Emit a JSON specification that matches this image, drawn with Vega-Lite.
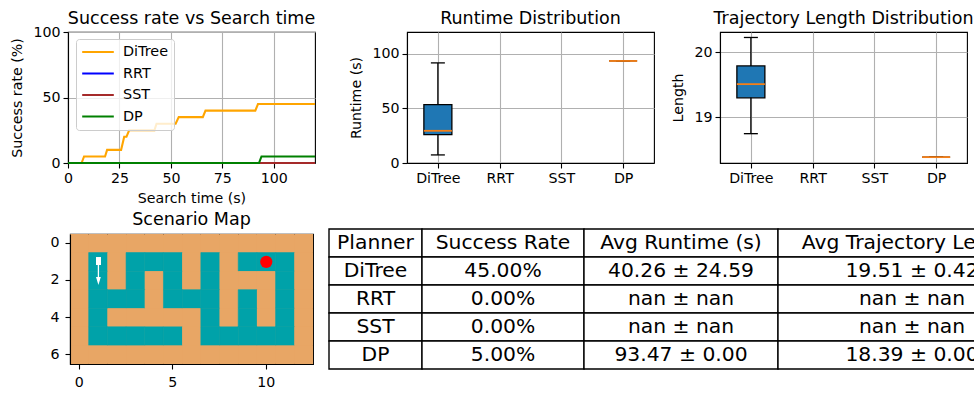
{
"$schema":"https://vega.github.io/schema/vega-lite/v6.json",
"padding":{"left":10,"top":8,"right":0,"bottom":0},
"background":"white",
"config":{
 "font":"DejaVu Sans",
 "view":{"stroke":"black","strokeWidth":1.1},
 "axis":{"labelFont":"DejaVu Sans","titleFont":"DejaVu Sans","labelFontSize":14.2,"titleFontSize":14.2,"titleFontWeight":"normal","labelColor":"black","titleColor":"black","domainColor":"black","tickColor":"black","domainWidth":1.1,"tickWidth":1.1,"tickSize":5,"gridColor":"#b0b0b0","gridWidth":1.1,"labelPadding":3,"titlePadding":8,"labelAngle":0,"labelFlush":false},
 "title":{"font":"DejaVu Sans","fontSize":17.5,"fontWeight":"normal","color":"black","offset":5,"anchor":"middle"}
},
"datasets":{
 "runtime":[{"planner":"DiTree","min":7.4,"q1":26,"med":29.5,"q3":53.4,"max":91.7},{"planner":"DP","min":93.47,"q1":93.47,"med":93.47,"q3":93.47,"max":93.47}],
 "length":[{"planner":"DiTree","min":18.75,"q1":19.3,"med":19.51,"q3":19.79,"max":20.226},{"planner":"DP","min":18.39,"q1":18.39,"med":18.39,"q3":18.39,"max":18.39}]
},
"vconcat":[
 {"hconcat":[
  {"title":{"text":"Success rate vs Search time","dy":7},"width":247,"height":131,
   "data":{"values":[
    {"p":"DiTree","t":0,"s":0},{"p":"DiTree","t":6.6,"s":0},{"p":"DiTree","t":7.8,"s":5},{"p":"DiTree","t":18,"s":5},{"p":"DiTree","t":19,"s":10},{"p":"DiTree","t":25.8,"s":10},{"p":"DiTree","t":27.3,"s":20},{"p":"DiTree","t":28.4,"s":20},{"p":"DiTree","t":29.7,"s":25},{"p":"DiTree","t":42,"s":25},{"p":"DiTree","t":43,"s":30},{"p":"DiTree","t":52.3,"s":30},{"p":"DiTree","t":53.8,"s":35},{"p":"DiTree","t":65.5,"s":35},{"p":"DiTree","t":66.8,"s":40},{"p":"DiTree","t":91,"s":40},{"p":"DiTree","t":92.3,"s":45},{"p":"DiTree","t":120,"s":45},
    {"p":"RRT","t":0,"s":0},{"p":"RRT","t":120,"s":0},
    {"p":"SST","t":0,"s":0},{"p":"SST","t":120,"s":0},
    {"p":"DP","t":0,"s":0},{"p":"DP","t":92.8,"s":0},{"p":"DP","t":94,"s":5},{"p":"DP","t":120,"s":5}
   ]},
   "mark":{"type":"line","clip":false,"strokeWidth":2.1},
   "encoding":{
    "x":{"field":"t","type":"quantitative","title":"Search time (s)","scale":{"domain":[0,120],"nice":false},"axis":{"values":[0,25,50,75,100],"grid":true,"titlePadding":6,"labelPadding":3}},
    "y":{"field":"s","type":"quantitative","title":"Success rate (%)","scale":{"domain":[0,100],"nice":false},"axis":{"values":[0,50,100],"grid":true}},
    "color":{"field":"p","type":"nominal","sort":null,"scale":{"domain":["DiTree","RRT","SST","DP"],"range":["orange","blue","brown","green"]},
      "legend":{"title":null,"orient":"none","legendX":8,"legendY":7,"symbolType":"stroke","symbolSize":1000,"symbolStrokeWidth":2,"clipHeight":16,"rowPadding":5.5,"labelFontSize":14.4,"labelColor":"black","labelFont":"DejaVu Sans","labelOffset":8,"fillColor":"rgba(255,255,255,0.8)","strokeColor":"#cccccc","cornerRadius":3,"padding":5}}
   }},
  {"hconcat":[
   {"title":"Runtime Distribution","width":247,"height":131,"data":{"name":"runtime"},
    "encoding":{"x":{"field":"planner","type":"nominal","title":null,"scale":{"type":"point","domain":["DiTree","RRT","SST","DP"],"padding":0.5},"axis":{"grid":true,"labelPadding":3}}},
    "layer":[
     {"mark":{"type":"rule","color":"black","strokeWidth":1.3},"encoding":{"y":{"field":"min","type":"quantitative","title":"Runtime (s)","scale":{"domain":[0,120],"nice":false},"axis":{"values":[0,50,100],"grid":true}},"y2":{"field":"max"}}},
     {"mark":{"type":"bar","size":28,"fill":"#1f77b4","stroke":"black","strokeWidth":1.3},"encoding":{"y":{"field":"q1","type":"quantitative"},"y2":{"field":"q3"}}},
     {"mark":{"type":"tick","orient":"horizontal","size":14,"thickness":1.3,"color":"black","opacity":1},"encoding":{"y":{"field":"min","type":"quantitative"}}},
     {"mark":{"type":"tick","orient":"horizontal","size":14,"thickness":1.3,"color":"black","opacity":1},"encoding":{"y":{"field":"max","type":"quantitative"}}},
     {"mark":{"type":"tick","orient":"horizontal","size":28,"thickness":1.8,"color":"#f57f17","opacity":1},"encoding":{"y":{"field":"med","type":"quantitative"}}}
    ]},
   {"title":"Trajectory Length Distribution","width":247,"height":131,"data":{"name":"length"},
    "encoding":{"x":{"field":"planner","type":"nominal","title":null,"scale":{"type":"point","domain":["DiTree","RRT","SST","DP"],"padding":0.5},"axis":{"grid":true,"labelPadding":3}}},
    "layer":[
     {"mark":{"type":"rule","color":"black","strokeWidth":1.3},"encoding":{"y":{"field":"min","type":"quantitative","title":"Length","scale":{"domain":[18.3,20.31],"nice":false},"axis":{"values":[19,20],"grid":true,"format":"d"}},"y2":{"field":"max"}}},
     {"mark":{"type":"bar","size":28,"fill":"#1f77b4","stroke":"black","strokeWidth":1.3},"encoding":{"y":{"field":"q1","type":"quantitative"},"y2":{"field":"q3"}}},
     {"mark":{"type":"tick","orient":"horizontal","size":14,"thickness":1.3,"color":"black","opacity":1},"encoding":{"y":{"field":"min","type":"quantitative"}}},
     {"mark":{"type":"tick","orient":"horizontal","size":14,"thickness":1.3,"color":"black","opacity":1},"encoding":{"y":{"field":"max","type":"quantitative"}}},
     {"mark":{"type":"tick","orient":"horizontal","size":28,"thickness":1.8,"color":"#f57f17","opacity":1},"encoding":{"y":{"field":"med","type":"quantitative"}}}
    ]}
  ],"spacing":66,"bounds":"flush"}
 ],"spacing":92,"bounds":"flush"},
 {"hconcat":[
  {"width":2,"height":1,"view":{"stroke":null},"data":{"values":[]},"mark":"point","encoding":{}},
  {"hconcat":[
  {"title":"Scenario Map","width":243,"height":130,"view":{"fill":"#e8a665","stroke":"black","strokeWidth":1.1},
   "resolve":{"scale":{"x":"independent","y":"independent"},"axis":{"x":"independent","y":"independent"}},
   "layer":[
    {"data":{"values":[
     {"c":0,"r":0,"f":0},{"c":1,"r":0,"f":0},{"c":2,"r":0,"f":0},{"c":3,"r":0,"f":0},{"c":4,"r":0,"f":0},{"c":5,"r":0,"f":0},{"c":6,"r":0,"f":0},{"c":7,"r":0,"f":0},{"c":8,"r":0,"f":0},{"c":9,"r":0,"f":0},{"c":10,"r":0,"f":0},{"c":11,"r":0,"f":0},{"c":12,"r":0,"f":0},
     {"c":0,"r":1,"f":0},{"c":1,"r":1,"f":1},{"c":2,"r":1,"f":0},{"c":3,"r":1,"f":1},{"c":4,"r":1,"f":1},{"c":5,"r":1,"f":1},{"c":6,"r":1,"f":0},{"c":7,"r":1,"f":1},{"c":8,"r":1,"f":0},{"c":9,"r":1,"f":1},{"c":10,"r":1,"f":1},{"c":11,"r":1,"f":1},{"c":12,"r":1,"f":0},
     {"c":0,"r":2,"f":0},{"c":1,"r":2,"f":1},{"c":2,"r":2,"f":0},{"c":3,"r":2,"f":1},{"c":4,"r":2,"f":0},{"c":5,"r":2,"f":1},{"c":6,"r":2,"f":0},{"c":7,"r":2,"f":1},{"c":8,"r":2,"f":0},{"c":9,"r":2,"f":0},{"c":10,"r":2,"f":0},{"c":11,"r":2,"f":1},{"c":12,"r":2,"f":0},
     {"c":0,"r":3,"f":0},{"c":1,"r":3,"f":1},{"c":2,"r":3,"f":1},{"c":3,"r":3,"f":1},{"c":4,"r":3,"f":0},{"c":5,"r":3,"f":1},{"c":6,"r":3,"f":1},{"c":7,"r":3,"f":1},{"c":8,"r":3,"f":0},{"c":9,"r":3,"f":1},{"c":10,"r":3,"f":0},{"c":11,"r":3,"f":1},{"c":12,"r":3,"f":0},
     {"c":0,"r":4,"f":0},{"c":1,"r":4,"f":1},{"c":2,"r":4,"f":0},{"c":3,"r":4,"f":0},{"c":4,"r":4,"f":0},{"c":5,"r":4,"f":0},{"c":6,"r":4,"f":0},{"c":7,"r":4,"f":1},{"c":8,"r":4,"f":0},{"c":9,"r":4,"f":1},{"c":10,"r":4,"f":0},{"c":11,"r":4,"f":1},{"c":12,"r":4,"f":0},
     {"c":0,"r":5,"f":0},{"c":1,"r":5,"f":1},{"c":2,"r":5,"f":1},{"c":3,"r":5,"f":1},{"c":4,"r":5,"f":1},{"c":5,"r":5,"f":1},{"c":6,"r":5,"f":0},{"c":7,"r":5,"f":1},{"c":8,"r":5,"f":1},{"c":9,"r":5,"f":1},{"c":10,"r":5,"f":1},{"c":11,"r":5,"f":1},{"c":12,"r":5,"f":0},
     {"c":0,"r":6,"f":0},{"c":1,"r":6,"f":0},{"c":2,"r":6,"f":0},{"c":3,"r":6,"f":0},{"c":4,"r":6,"f":0},{"c":5,"r":6,"f":0},{"c":6,"r":6,"f":0},{"c":7,"r":6,"f":0},{"c":8,"r":6,"f":0},{"c":9,"r":6,"f":0},{"c":10,"r":6,"f":0},{"c":11,"r":6,"f":0},{"c":12,"r":6,"f":0}
    ]},
    "mark":{"type":"rect","strokeWidth":0.6,"opacity":1},
    "encoding":{
     "x":{"field":"c","type":"ordinal","title":null,"sort":null,"scale":{"paddingInner":0,"paddingOuter":0},"axis":{"values":[0,5,10],"orient":"bottom","labelPadding":6}},
     "y":{"field":"r","type":"ordinal","title":null,"sort":null,"scale":{"paddingInner":0,"paddingOuter":0},"axis":{"values":[0,2,4,6],"orient":"left","labelPadding":6}},
     "fill":{"field":"f","type":"nominal","legend":null,"scale":{"domain":[0,1],"range":["#e8a665","#00a2a9"]}},
     "stroke":{"field":"f","type":"nominal","legend":null,"scale":{"domain":[0,1],"range":["transparent","#00a2a9"]}}
    }},
    {"data":{"values":[{"x1":0.89,"x2":1.16,"y1":0.74,"y2":1.17}]},
     "mark":{"type":"rect","fill":"white"},
     "encoding":{
      "x":{"field":"x1","type":"quantitative","scale":{"domain":[-0.5,12.5],"nice":false,"zero":false},"axis":null},"x2":{"field":"x2"},
      "y":{"field":"y1","type":"quantitative","scale":{"domain":[6.5,-0.5],"nice":false,"zero":false},"axis":null},"y2":{"field":"y2"}}},
    {"data":{"values":[{"x":1.02,"y1":1.17,"y2":1.85}]},
     "mark":{"type":"rule","color":"white","strokeWidth":1.3},
     "encoding":{
      "x":{"field":"x","type":"quantitative","scale":{"domain":[-0.5,12.5],"nice":false,"zero":false},"axis":null},
      "y":{"field":"y1","type":"quantitative","scale":{"domain":[6.5,-0.5],"nice":false,"zero":false},"axis":null},"y2":{"field":"y2"}}},
    {"data":{"values":[{"x":1.02,"y":2.03}]},
     "mark":{"type":"point","filled":true,"fill":"white","opacity":1,"shape":"M-0.6,-1L0.6,-1L0,1Z","size":64},
     "encoding":{
      "x":{"field":"x","type":"quantitative","scale":{"domain":[-0.5,12.5],"nice":false,"zero":false},"axis":null},
      "y":{"field":"y","type":"quantitative","scale":{"domain":[6.5,-0.5],"nice":false,"zero":false},"axis":null}}},
    {"data":{"values":[{"x":10,"y":1}]},
     "mark":{"type":"point","filled":true,"fill":"red","opacity":1,"shape":"circle","size":150},
     "encoding":{
      "x":{"field":"x","type":"quantitative","scale":{"domain":[-0.5,12.5],"nice":false,"zero":false},"axis":null},
      "y":{"field":"y","type":"quantitative","scale":{"domain":[6.5,-0.5],"nice":false,"zero":false},"axis":null}}}
   ]},
  {"width":646,"height":142,"view":{"stroke":null},
   "data":{"values":[
    {"row":"Planner","text":"Planner","start":0,"end":93,"mid":46.5},{"row":"Planner","text":"Success Rate","start":93,"end":255,"mid":174},{"row":"Planner","text":"Avg Runtime (s)","start":255,"end":449,"mid":352},{"row":"Planner","text":"Avg Trajectory Length","start":449,"end":717,"mid":583},
    {"row":"DiTree","text":"DiTree","start":0,"end":93,"mid":46.5},{"row":"DiTree","text":"45.00%","start":93,"end":255,"mid":174},{"row":"DiTree","text":"40.26 ± 24.59","start":255,"end":449,"mid":352},{"row":"DiTree","text":"19.51 ± 0.42","start":449,"end":717,"mid":583},
    {"row":"RRT","text":"RRT","start":0,"end":93,"mid":46.5},{"row":"RRT","text":"0.00%","start":93,"end":255,"mid":174},{"row":"RRT","text":"nan ± nan","start":255,"end":449,"mid":352},{"row":"RRT","text":"nan ± nan","start":449,"end":717,"mid":583},
    {"row":"SST","text":"SST","start":0,"end":93,"mid":46.5},{"row":"SST","text":"0.00%","start":93,"end":255,"mid":174},{"row":"SST","text":"nan ± nan","start":255,"end":449,"mid":352},{"row":"SST","text":"nan ± nan","start":449,"end":717,"mid":583},
    {"row":"DP","text":"DP","start":0,"end":93,"mid":46.5},{"row":"DP","text":"5.00%","start":93,"end":255,"mid":174},{"row":"DP","text":"93.47 ± 0.00","start":255,"end":449,"mid":352},{"row":"DP","text":"18.39 ± 0.00","start":449,"end":717,"mid":583}
   ]},
   "encoding":{
    "y":{"field":"row","type":"nominal","axis":null,"scale":{"domain":["Planner","DiTree","RRT","SST","DP"],"paddingInner":0,"paddingOuter":0.036}}
   },
   "layer":[
    {"mark":{"type":"rect","fill":"white","stroke":"black","strokeWidth":1.4,"clip":true},
     "encoding":{"x":{"field":"start","type":"quantitative","axis":null,"scale":{"domain":[-1,645],"nice":false,"zero":false}},"x2":{"field":"end"}}},
    {"mark":{"type":"text","fontSize":20.3,"font":"DejaVu Sans","color":"black","clip":true,"align":"center","baseline":"middle"},
     "encoding":{"x":{"field":"mid","type":"quantitative","axis":null},"text":{"field":"text"}}}
   ]}
  ],"spacing":15,"bounds":"flush","center":true}
 ],"spacing":0,"bounds":"flush"}
],"spacing":196,"bounds":"flush"}
